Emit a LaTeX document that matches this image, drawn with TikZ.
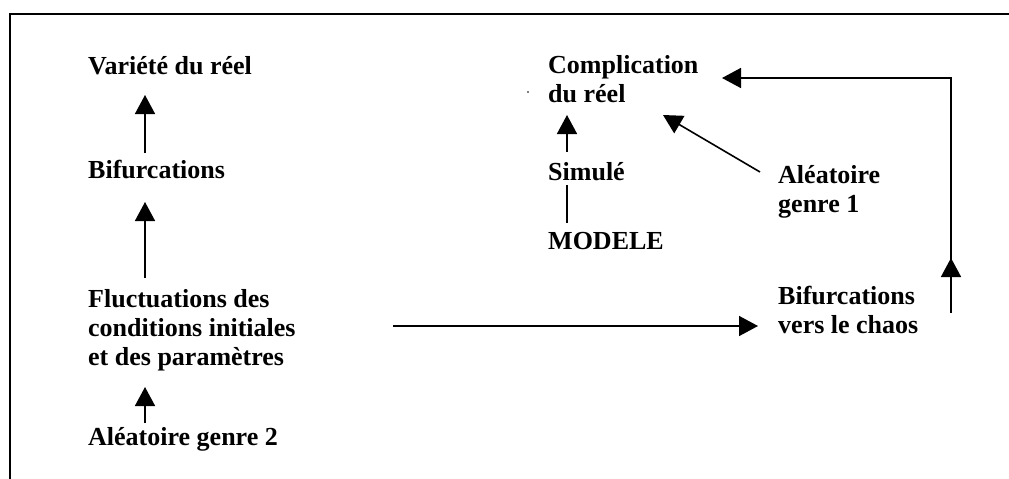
\documentclass[tikz,border=0pt]{standalone}
\usepackage{fontspec}
\setmainfont{Liberation Serif}
\usetikzlibrary{arrows.meta, decorations.markings}

\begin{document}
\begin{tikzpicture}[
    x=1pt, y=-1pt,
    term/.style={anchor=base west, inner sep=0pt, align=left, font=\bfseries\fontsize{26}{29}\selectfont},
    line/.style={draw, line width=1.6pt, -{Triangle[length=19pt, width=20pt]}},
    link/.style={draw, line width=1.6pt},
    midtip/.style={postaction={decorate}, decoration={markings,
        mark=at position #1 with {\arrow{Triangle[length=19pt, width=20pt]}}}}
]
\useasboundingbox (0,0) rectangle (1009,479);

% Frame
\draw [line width=2.5pt] (10,479) -- (10,14) -- (1009,14);

% Left column (multi-line nodes sit on their last line)
\node [term] (variete) at (88,74) {Variété du réel};
\node [term] (bifur) at (88,178) {Bifurcations};
\node [term] (fluct) at (88,365) {Fluctuations des\\conditions initiales\\et des paramètres};
\node [term] (alea2) at (88,445) {Aléatoire genre 2};

% Right part
\node [term] (compli) at (548,102) {Complication\\du réel};
\node [term] (simule) at (548,180) {Simulé};
\node [term] (modele) at (548,249) {MODELE};
\node [term] (alea1) at (778,212) {Aléatoire\\genre 1};
\node [term] (chaos) at (778,333) {Bifurcations\\vers le chaos};
\fill (528,92) circle (0.8);

% Left arrows
\path [line] ([shift={(57,-25)}]bifur.base west) -- ([shift={(57,21)}]variete.base west);
\path [line] ([shift={(57,-87)}]fluct.base west) -- ([shift={(57,24)}]bifur.base west);
\path [line] ([shift={(57,-22)}]alea2.base west) -- ([shift={(57,22)}]fluct.base west);

% Right arrows
\path [line] ([shift={(19,-28)}]simule.base west) -- ([shift={(19,13)}]compli.base west);
\path [link] ([shift={(19,-26)}]modele.base west) -- ([shift={(19,5)}]simule.base west);
\path [line] ([shift={(-18,-40)}]alea1.base west) -- ([shift={(115,13)}]compli.base west);
\path [line] ([shift={(305,-39)}]fluct.base west) -- ([shift={(-20,-7)}]chaos.base west);
\path [line, midtip=55pt] ([shift={(173,-20)}]chaos.base west) |- ([shift={(174,-24)}]compli.base west);

\end{tikzpicture}
\end{document}
